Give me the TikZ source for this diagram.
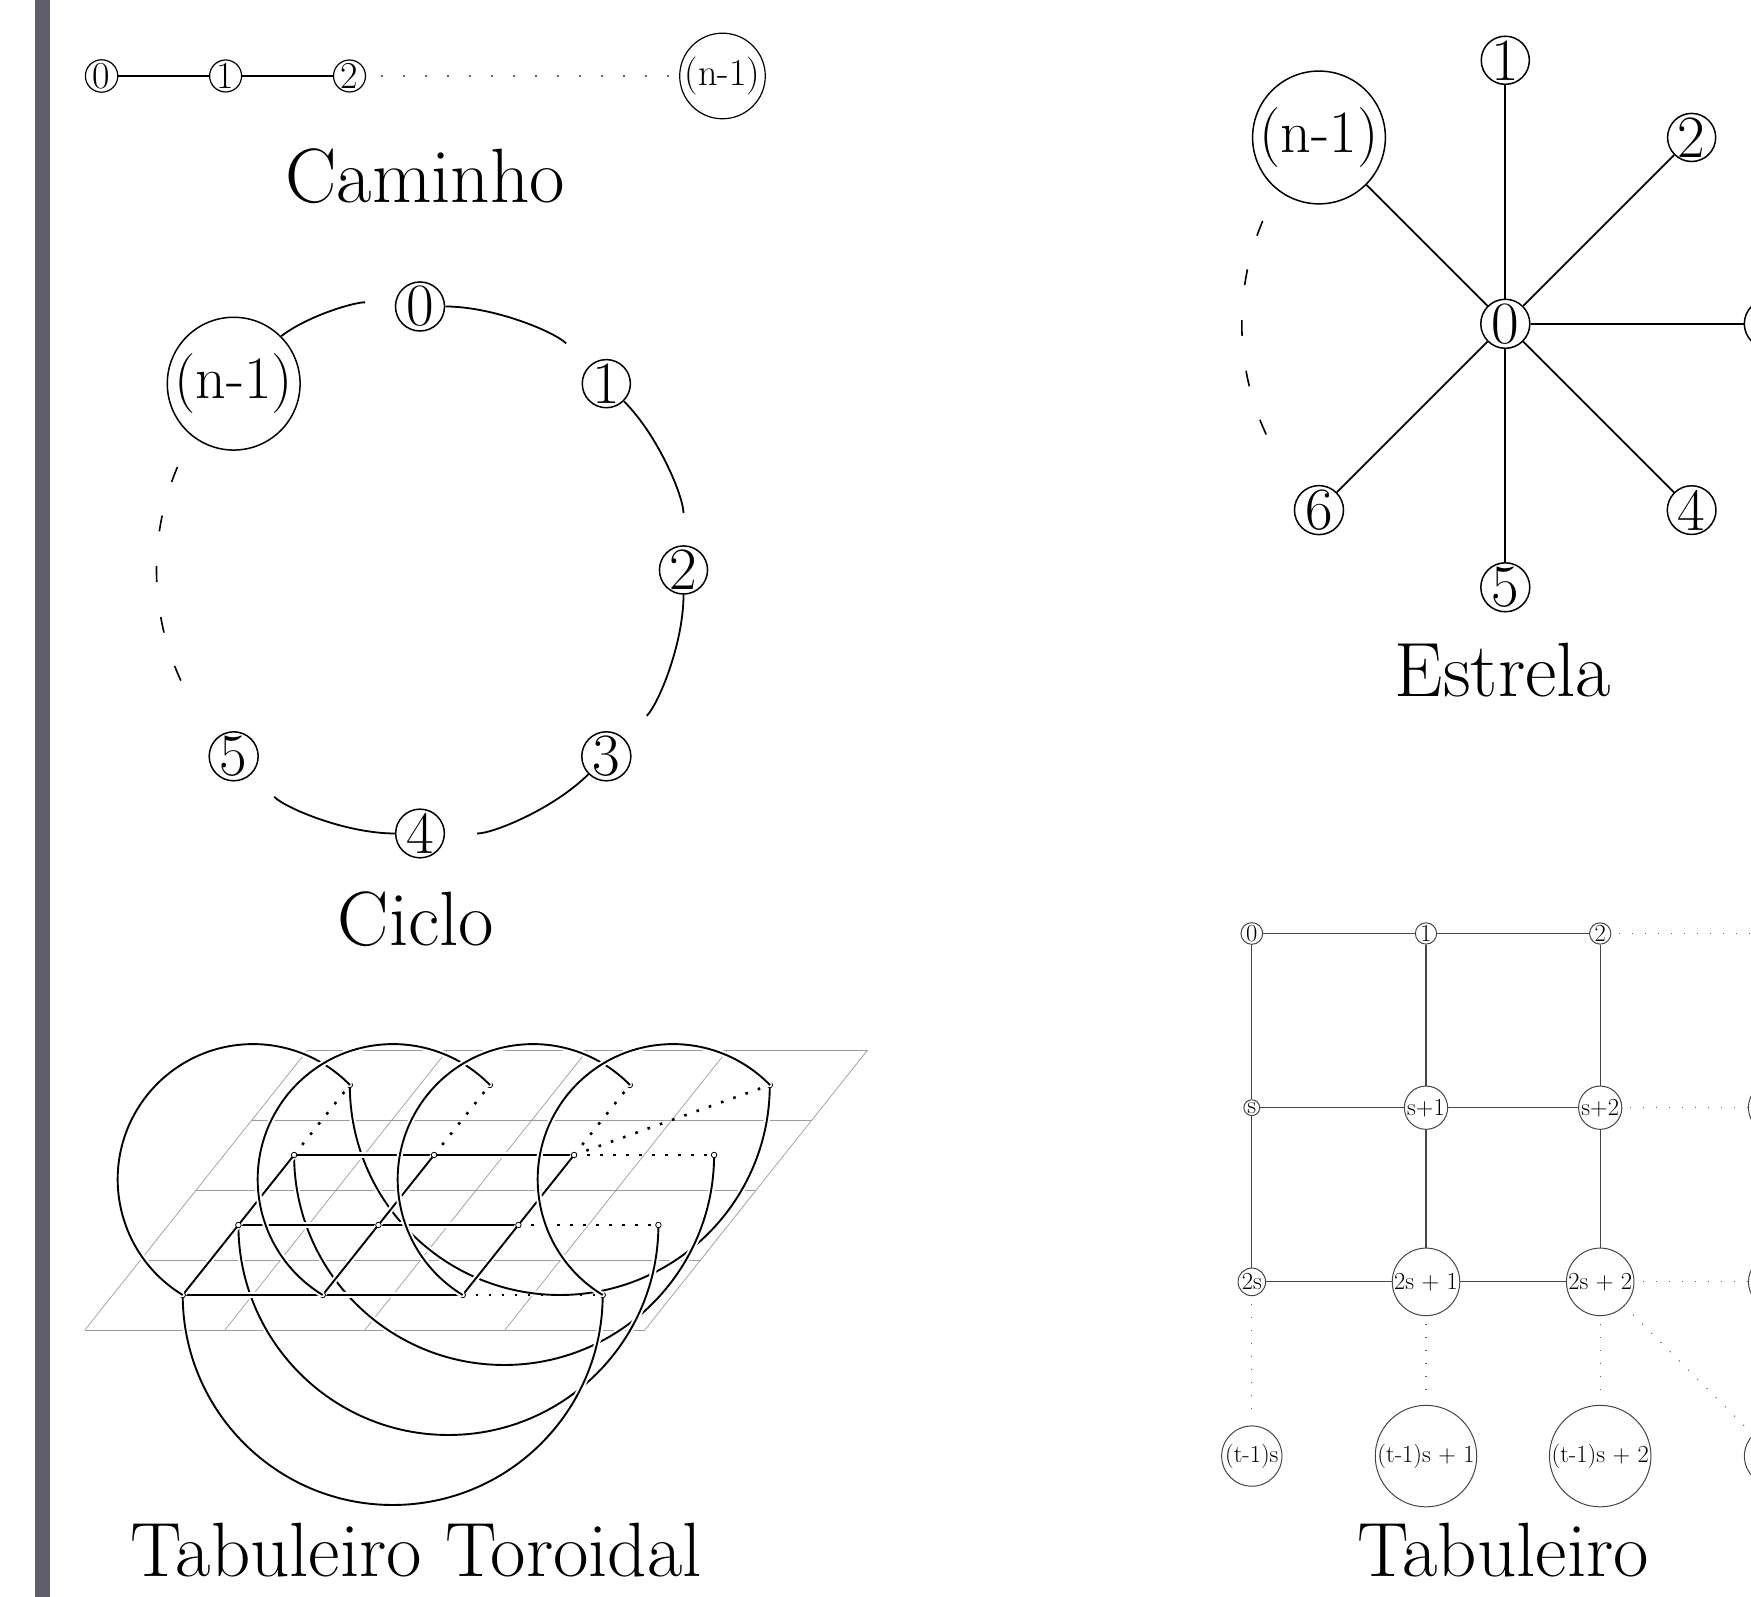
\documentclass[tikz,border=0pt]{standalone}
\usepackage{fontspec}
\usepackage{xcolor}
\usepackage{tikz}
\usetikzlibrary{positioning}
\definecolor{sidebar}{RGB}{94,94,106}
\definecolor{planegray}{RGB}{155,155,155}
\definecolor{boardgray}{RGB}{70,70,70}
\definecolor{dotgray}{RGB}{100,100,100}

\tikzset{
  vertex/.style={circle, draw, inner sep=0pt, line width=1.5pt, font=\fontsize{60}{60}\selectfont},
  pathvertex/.style={circle, draw, inner sep=0.5pt, line width=1.2pt, font=\fontsize{38}{38}\selectfont},
  boardvertex/.style={circle, draw=boardgray, inner sep=0.6pt, line width=1pt, font=\fontsize{24.5}{24.5}\selectfont},
  cutvertex/.style={circle, draw, inner sep=0pt, line width=1.5pt},
  torusvertex/.style={circle, draw, fill=white, inner sep=0pt, minimum size=5.5pt, line width=0.8pt,
    path picture={\fill (path picture bounding box.center) circle (0.9pt);}},
  graphname/.style={anchor=base, inner sep=0pt, font=\fontsize{77}{77}\selectfont},
  starline/.style={line width=1.8pt},
  cyclearc/.style={line width=1.8pt, looseness=.8, shorten >=32pt},
  cycledash/.style={line width=1.6pt, dash pattern=on 16pt off 35pt},
  pathdots/.style={dotgray, line width=1.4pt, dash pattern=on 1.4pt off 20.6pt, shorten <=15pt, shorten >=10pt},
  boardline/.style={boardgray, line width=1.2pt},
  boarddots/.style={dotgray, line width=1.1pt, dash pattern=on 1.1pt off 11.9pt, shorten <=8pt},
  planeline/.style={planegray, line width=0.7pt},
  torusline/.style={line width=1.9pt, preaction={draw=white, line width=6pt}},
  torusdots/.style={line width=2.6pt, dash pattern=on 2.6pt off 10.4pt},
}

\begin{document}
\begin{tikzpicture}[x=1pt, y=1pt]
  \useasboundingbox (0,0) rectangle (1751,1597);
  \clip (0,0) rectangle (1751,1597);
  \fill[sidebar] (35,0) rectangle (50,1597);

  % Caminho
  \node[pathvertex] (p0) at (101.6,1521) {0};
  \node[pathvertex] (p1) at (225.6,1521) {1};
  \node[pathvertex] (p2) at (349.5,1521) {2};
  \node[pathvertex] (pn) at (722.5,1521) {(n-1)};
  \draw[line width=1.3pt] (p0) -- (p1) -- (p2);
  \draw[pathdots] (p2) -- (pn);
  \node[graphname] (tcam) at (425,1394) {Caminho};

  % Ciclo
  \coordinate (cyc) at (420,1027);
  \foreach \n/\a in {0/90, 1/45, 2/0, 3/-45, 4/-90, 5/-135}
    \node[vertex] (c\n) at ([shift={(\a:263.5)}]cyc) {\n};
  \node[vertex] (cn) at ([shift={(135:263.5)}]cyc) {(n-1)};
  \draw[cyclearc, shorten >=30pt] (cn) to[bend left=22.5] (c0);
  \foreach \a/\b in {0/1, 1/2, 2/3, 3/4, 4/5}
    \draw[cyclearc] (c\a) to[bend left=22.5] (c\b);
  \draw[cycledash] ([shift={(157:263.5)}]cyc) arc[start angle=157, end angle=206, radius=263.5pt];
  \node[graphname] (tcic) at (416,651) {Ciclo};

  % Estrela
  \node[vertex] (s0) at (1505.3,1273.2) {0};
  \foreach \n/\a in {1/90, 2/45, 4/-45, 5/-90, 6/-135}
    \node[vertex] (s\n) at ([shift={(\a:263.5)}]s0) {\n};
  \node[cutvertex, minimum size=49pt] (s3) at ([shift={(0:263.5)}]s0) {};
  \node[vertex] (sn) at ([shift={(135:263.5)}]s0) {(n-1)};
  \foreach \n in {1,...,6,n}
    \draw[starline] (s0) -- (s\n);
  \draw[cycledash] ([shift={(157:263.5)}]s0) arc[start angle=157, end angle=206, radius=263.5pt];
  \node[graphname] (test) at (1503,900) {Estrela};

  % Tabuleiro
  \node[boardvertex] (g0) at (1251.8,663.5) {0};
  \node[boardvertex] (g1) at (1426,663.5) {1};
  \node[boardvertex] (g2) at (1600.2,663.5) {2};
  \node[cutvertex, draw=boardgray, line width=1pt, minimum size=44pt] (ge1) at (1774.4,663.5) {};
  \node[boardvertex] (gs) at (1251.8,489.3) {s};
  \node[boardvertex] (gs1) at (1426,489.3) {s+1};
  \node[boardvertex] (gs2) at (1600.2,489.3) {s+2};
  \node[cutvertex, draw=boardgray, line width=1pt, minimum size=52pt] (ge2) at (1774.4,489.3) {};
  \node[boardvertex] (g2s) at (1251.8,315.1) {2s};
  \node[boardvertex] (g2s1) at (1426,315.1) {2s + 1};
  \node[boardvertex] (g2s2) at (1600.2,315.1) {2s + 2};
  \node[cutvertex, draw=boardgray, line width=1pt, minimum size=52pt] (ge3) at (1774.4,315.1) {};
  \node[boardvertex] (gt) at (1251.8,140.9) {(t-1)s};
  \node[boardvertex] (gt1) at (1426,140.9) {(t-1)s + 1};
  \node[boardvertex] (gt2) at (1600.2,140.9) {(t-1)s + 2};
  \node[cutvertex, draw=boardgray, line width=1pt, minimum size=60pt] (ge4) at (1774.4,140.9) {};
  \draw[boardline] (g0) -- (g1) -- (g2);
  \draw[boardline] (gs) -- (gs1) -- (gs2);
  \draw[boardline] (g2s) -- (g2s1) -- (g2s2);
  \draw[boardline] (g0) -- (gs) -- (g2s);
  \draw[boardline] (g1) -- (gs1) -- (g2s1);
  \draw[boardline] (g2) -- (gs2) -- (g2s2);
  \draw[boarddots] (g2) -- (ge1);
  \draw[boarddots] (gs2) -- (ge2);
  \draw[boarddots] (g2s2) -- (ge3);
  \draw[boarddots, shorten >=5pt] (g2s) -- (gt);
  \draw[boarddots, shorten >=8pt] (g2s1) -- (gt1);
  \draw[boarddots, shorten >=8pt] (g2s2) -- (gt2);
  \draw[boarddots, shorten <=12pt] (g2s2) -- (ge4);
  \node[graphname] (ttab) at (1503,20) {Tabuleiro};

  % Tabuleiro Toroidal
  \foreach \i in {0,...,3}
    \foreach \j in {0,...,3}
      \coordinate (t\i\j) at ({182.7+140*\i+55.7*(3-\j)}, {512-70*\j});
  \foreach \k in {0,...,4} {
    \draw[planeline] ({84.85+140*\k},267) -- ({307.65+140*\k},547);
    \draw[planeline] ({84.85+55.7*\k},{267+70*\k}) -- ({644.85+55.7*\k},{267+70*\k});
  }
  \foreach \j in {0,...,3}
    \draw[torusline] (t0\j) arc[start angle=180, end angle=360, radius=210pt];
  \foreach \j in {1,2,3}
    \draw[torusline] (t0\j) -- (t1\j) -- (t2\j);
  \foreach \i in {0,1,2}
    \draw[torusline] (t\i3) -- (t\i2) -- (t\i1);
  \foreach \j in {1,2,3}
    \draw[torusdots] (t2\j) -- (t3\j);
  \foreach \i in {0,1,2}
    \draw[torusdots] (t\i1) -- (t\i0);
  \draw[torusdots] (t21) -- (t30);
  \foreach \i in {0,...,3}
    \foreach \j in {0,...,3}
      \node[torusvertex] (v\i\j) at (t\i\j) {};
  \foreach \i in {0,...,3}
    \draw[torusline] (t\i3) arc[start angle=238.7, end angle=44.2, radius=135.3pt];
  \node[graphname] (ttor) at (416,20) {Tabuleiro Toroidal};
\end{tikzpicture}
\end{document}
